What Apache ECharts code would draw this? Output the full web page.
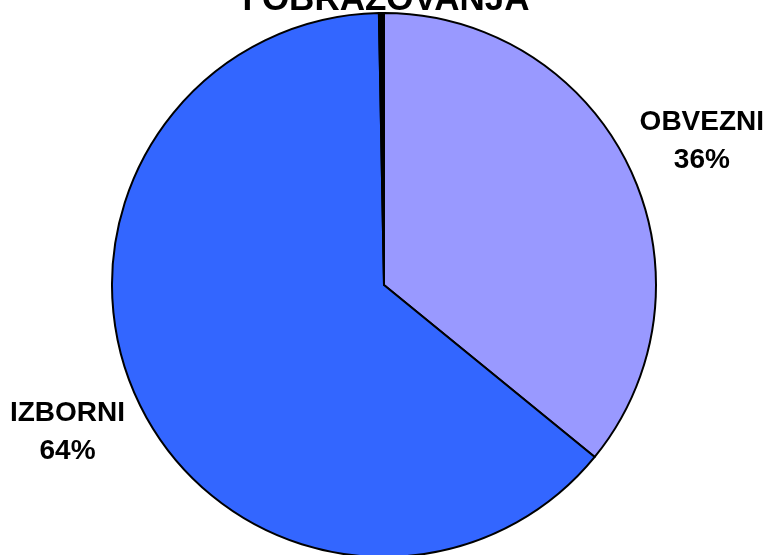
<!DOCTYPE html>
<html>
<head>
<meta charset="utf-8">
<script src="https://cdn.jsdelivr.net/npm/echarts@6/dist/echarts.min.js"></script>
<style>
  html, body { margin: 0; padding: 0; background: #fff; }
  #chart { width: 772px; height: 555px; }
</style>
</head>
<body>
<div id="chart"></div>
<script>
// podaci
const titleText = 'I OBRAZOVANJA';
const categories = ['OBVEZNI', 'IZBORNI', ''];
const shares = [36, 64, 0.3]; // zadnji je tanki isjecak na vrhu
const colors = ['#9999FF', '#3366FF', '#000000'];

const cx = 384, cy = 285, r = 272;
const labelGap = 77; // razmak oznake od ruba
const labelTurn = 1 * Math.PI / 180; // malo zakrenuto u smjeru kazaljke

let myChart = echarts.init(document.getElementById('chart'));

let data = categories.map((name, i) => ({
    name: name,
    value: shares[i],
    itemStyle: { color: colors[i] },
    label: { show: name !== '' }
}));

let options = {
    backgroundColor: '#ffffff',
    animation: false,
    title: {
        text: titleText,
        left: 'center',
        top: -22,
        textStyle: {
            fontFamily: 'Liberation Sans',
            fontWeight: 'bold',
            fontSize: 35,
            color: '#000'
        }
    },
    series: [
        {
            type: 'pie',
            center: [cx, cy],
            radius: [0, r],
            startAngle: 90,
            clockwise: true,
            avoidLabelOverlap: false,
            itemStyle: { borderColor: '#000', borderWidth: 2 },
            label: {
                position: 'outside',
                formatter: p => p.name + '\n' + p.value + '%',
                fontFamily: 'Liberation Sans',
                fontWeight: 'bold',
                fontSize: 28,
                lineHeight: 38,
                color: '#000'
            },
            labelLine: { show: false },
            labelLayout: function (params) {
                let pts = params.labelLinePoints;
                if (!pts) return {};
                // smjer od sredista prema rubu, oznaka malo dalje
                let a = Math.atan2(pts[0][1] - cy, pts[0][0] - cx) + labelTurn;
                return {
                    x: cx + Math.cos(a) * (r + labelGap),
                    y: cy + Math.sin(a) * (r + labelGap),
                    align: 'center',
                    verticalAlign: 'middle'
                };
            },
            data: data
        }
    ]
};
myChart.setOption(options);
</script>
</body>
</html>
